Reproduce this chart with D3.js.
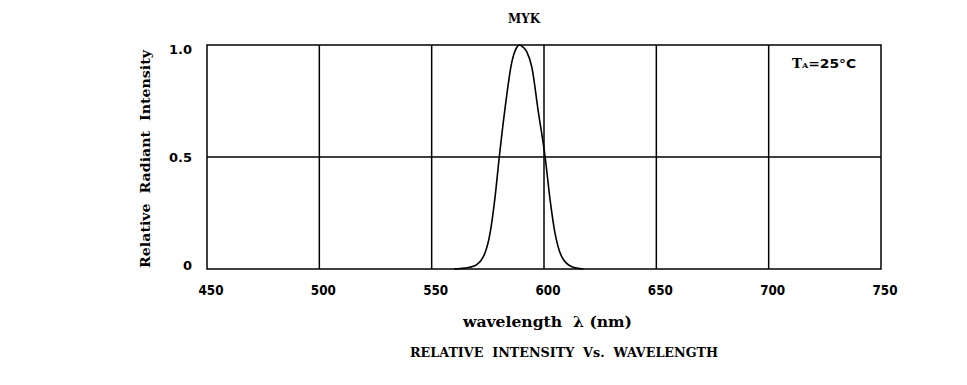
<!DOCTYPE html>
<html>
<head>
<meta charset="utf-8">
<script src="https://cdn.jsdelivr.net/npm/d3@7"></script>
<style>
  body { margin: 0; background: #fff; }
  svg { display: block; }
  text { white-space: pre; }
</style>
</head>
<body>
<svg id="chart" width="967" height="385"></svg>
<script>
// spectrum (wavelength nm, relative intensity)
const wavelengths = [560, 562.7, 568.6, 573, 576, 578.2, 580.1, 582.7, 585.6, 587.9, 589, 590.1, 592.3, 594.6, 597.5, 600.5, 602.7, 604.9, 607.9, 612.4, 617.5];
const intensity   = [0, 0.002, 0.012, 0.055, 0.16, 0.32, 0.50, 0.72, 0.92, 0.99, 1.0, 0.995, 0.97, 0.90, 0.70, 0.50, 0.31, 0.16, 0.055, 0.01, 0];

const xTicks = [450, 500, 550, 600, 650, 700, 750];
const yTicks = [0, 0.5, 1.0];
const yTickLabels = ["0", "0.5", "1.0"];

const svg = d3.select("#chart");
const plotL = 207, plotR = 881, plotT = 45, plotB = 269;

const x = d3.scaleLinear().domain([450, 750]).range([plotL, plotR]);
const y = d3.scaleLinear().domain([0, 1]).range([plotB, plotT]);
// tick labels sit slightly inside the frame vertically
const yLab = d3.scaleLinear().domain([0, 1]).range([plotB - 4, plotT + 4]);

const serif = "'DejaVu Serif', 'Liberation Serif', serif";
const sans = "'DejaVu Sans', 'Liberation Sans', sans-serif";

// grid
svg.append("g").selectAll("line")
  .data(xTicks.slice(1, -1))
  .join("line")
  .attr("x1", d => x(d)).attr("x2", d => x(d))
  .attr("y1", plotT).attr("y2", plotB)
  .attr("stroke", "#000").attr("stroke-width", 1.5);

svg.append("line")
  .attr("x1", plotL).attr("x2", plotR)
  .attr("y1", y(0.5)).attr("y2", y(0.5))
  .attr("stroke", "#000").attr("stroke-width", 1.5);

// frame
svg.append("rect")
  .attr("x", plotL).attr("y", plotT)
  .attr("width", plotR - plotL).attr("height", plotB - plotT)
  .attr("fill", "none").attr("stroke", "#000").attr("stroke-width", 1.5);

// spectrum curve
const pts = wavelengths.map((w, i) => [w, intensity[i]]);
svg.append("path")
  .attr("d", d3.line().x(d => x(d[0])).y(d => y(d[1])).curve(d3.curveMonotoneX)(pts))
  .attr("fill", "none").attr("stroke", "#000").attr("stroke-width", 1.6);

// tick labels
svg.append("g").selectAll("text")
  .data(xTicks)
  .join("text")
  .attr("x", d => x(d) + 4).attr("y", 295)
  .attr("text-anchor", "middle")
  .attr("textLength", 25).attr("lengthAdjust", "spacingAndGlyphs")
  .style("font-family", sans).style("font-weight", "bold").style("font-size", "13.5px")
  .text(d => d);

svg.append("g").selectAll("text")
  .data(yTicks)
  .join("text")
  .attr("x", 192).attr("y", d => yLab(d) + 5)
  .attr("text-anchor", "end")
  .style("font-family", sans).style("font-weight", "bold").style("font-size", "13px")
  .text((d, i) => yTickLabels[i]);

// titles
svg.append("text")
  .attr("x", 508).attr("y", 23)
  .attr("textLength", 32).attr("lengthAdjust", "spacingAndGlyphs")
  .style("font-family", serif).style("font-weight", "bold").style("font-size", "13px")
  .text("MYK");

svg.append("text")
  .attr("transform", "translate(150,268) rotate(-90)")
  .attr("textLength", 218).attr("lengthAdjust", "spacingAndGlyphs")
  .style("font-family", serif).style("font-weight", "bold").style("font-size", "13.5px")
  .text("Relative  Radiant  Intensity");

svg.append("text")
  .attr("x", 463).attr("y", 327)
  .attr("textLength", 169).attr("lengthAdjust", "spacingAndGlyphs")
  .style("font-family", serif).style("font-weight", "bold").style("font-size", "14px")
  .text("wavelength  λ (nm)");

svg.append("text")
  .attr("x", 410).attr("y", 357)
  .attr("textLength", 308).attr("lengthAdjust", "spacingAndGlyphs")
  .style("font-family", serif).style("font-weight", "bold").style("font-size", "12.5px")
  .text("RELATIVE  INTENSITY  Vs.  WAVELENGTH");

// ambient temperature note
const ta = svg.append("text")
  .attr("x", 792).attr("y", 68)
  .style("font-family", serif).style("font-weight", "bold").style("font-size", "12.5px");
ta.append("tspan").attr("textLength", 10).attr("lengthAdjust", "spacingAndGlyphs").text("T");
ta.append("tspan").style("font-size", "8px").text("A");
ta.append("tspan").style("font-family", sans).attr("textLength", 48).attr("lengthAdjust", "spacingAndGlyphs").text("=25°C");
</script>
</body>
</html>
